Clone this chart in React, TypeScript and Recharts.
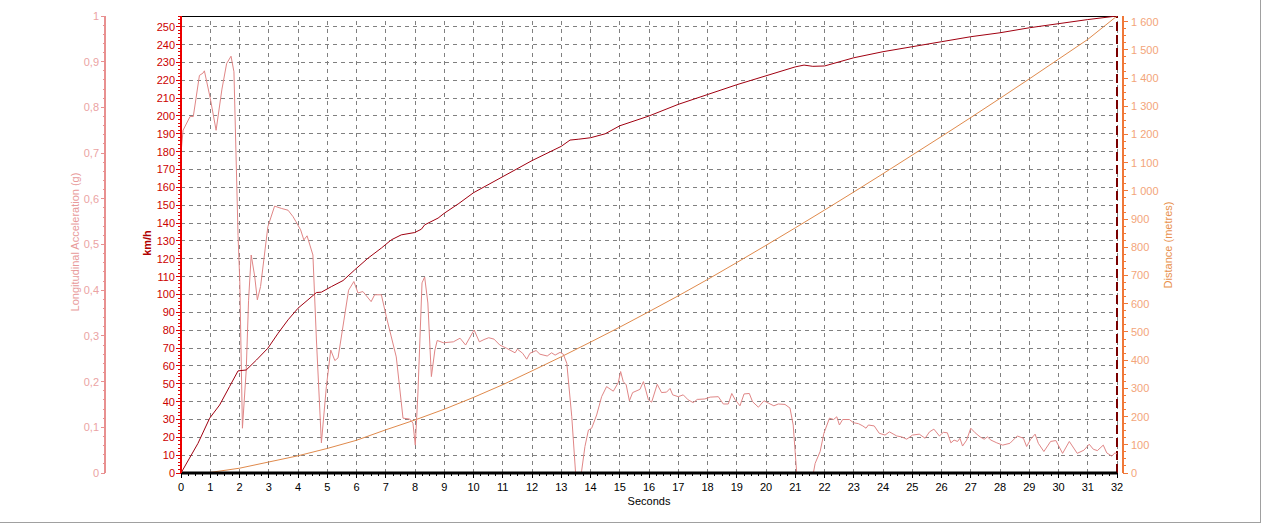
import React from 'react';
import { ComposedChart, Line, XAxis, YAxis, ReferenceLine } from 'recharts';

// ---- Data ----
const speedTime = [0, 0.58, 0.98, 1.32, 1.66, 1.95, 2.23, 2.58, 2.97, 3.32, 3.66, 4.0, 4.34, 4.63, 4.8, 5.14, 5.54, 5.94, 6.39, 6.85, 7.19, 7.53, 7.99, 8.22, 8.33, 8.79, 9.0, 9.5, 10, 11, 12, 13, 13.3, 13.6, 14, 14.5, 15, 16, 17, 18, 19, 20, 21, 21.3, 21.6, 22, 23, 24, 25, 26, 27, 28, 29, 30, 31, 32];
const speedKmh = [0, 16.6, 30.7, 38.1, 48.4, 57.2, 57.7, 63.3, 69.9, 78.3, 85.8, 92.3, 97, 101.1, 101.3, 104.4, 107.8, 113.8, 120.3, 126, 130.6, 133.4, 134.7, 136.6, 139, 142.8, 145.5, 151, 157, 166, 175, 183, 186.5, 187, 187.8, 190, 194.5, 200, 206.5, 212, 217.5, 222.5, 227.5, 228.5, 227.8, 228, 232.6, 236, 238.8, 241.6, 244.4, 246.6, 249.4, 251.7, 254, 256];

const accelTime = [0, 0.07, 0.31, 0.42, 0.63, 0.75, 0.8, 1.0, 1.2, 1.4, 1.56, 1.71, 1.81, 1.95, 2.01, 2.1, 2.23, 2.31, 2.4, 2.52, 2.61, 2.72, 2.97, 3.2, 3.43, 3.66, 3.83, 3.93, 4.09, 4.2, 4.31, 4.51, 4.63, 4.8, 4.97, 5.12, 5.26, 5.37, 5.73, 5.91, 6.05, 6.22, 6.5, 6.62, 6.85, 7.02, 7.36, 7.59, 7.82, 7.93, 8.01, 8.1, 8.24, 8.33, 8.44, 8.56, 8.68, 8.76, 8.97, 9.31, 9.54, 9.73, 10.02, 10.2, 10.36, 10.52, 10.7, 10.9, 11.13, 11.42, 11.5, 11.68, 11.82, 11.93, 12.14, 12.27, 12.52, 12.67, 12.79, 12.96, 13.07, 13.19, 13.36, 13.49, 13.68, 13.7, 13.81, 13.93, 14.04, 14.21, 14.38, 14.55, 14.78, 14.95, 15.03, 15.12, 15.22, 15.33, 15.44, 15.69, 15.81, 15.98, 16.09, 16.28, 16.43, 16.6, 16.72, 16.81, 17.0, 17.17, 17.34, 17.51, 17.65, 17.91, 18.09, 18.37, 18.54, 18.71, 18.83, 18.94, 19.11, 19.25, 19.43, 19.54, 19.74, 19.93, 20.08, 20.27, 20.42, 20.65, 20.82, 20.93, 21.05, 21.62, 21.68, 21.85, 21.98, 22.17, 22.31, 22.42, 22.51, 22.62, 22.85, 22.99, 23.16, 23.31, 23.42, 23.5, 23.7, 23.87, 24.07, 24.22, 24.47, 24.64, 24.81, 25.01, 25.24, 25.44, 25.59, 25.74, 25.93, 26.06, 26.2, 26.32, 26.43, 26.55, 26.63, 26.72, 26.86, 27.0, 27.15, 27.32, 27.46, 27.57, 27.69, 27.89, 28.09, 28.34, 28.59, 28.8, 28.91, 29.05, 29.2, 29.31, 29.5, 29.73, 29.91, 30.14, 30.37, 30.64, 30.87, 31.05, 31.19, 31.33, 31.53, 31.65, 31.82, 31.93, 32.0];
const accelG = [0.7, 0.75, 0.78, 0.78, 0.87, 0.875, 0.88, 0.82, 0.75, 0.84, 0.896, 0.912, 0.878, 0.52, 0.42, 0.098, 0.225, 0.378, 0.477, 0.43, 0.379, 0.408, 0.539, 0.584, 0.579, 0.575, 0.561, 0.55, 0.532, 0.51, 0.519, 0.477, 0.291, 0.066, 0.189, 0.269, 0.246, 0.252, 0.4, 0.419, 0.394, 0.397, 0.375, 0.39, 0.39, 0.342, 0.254, 0.12, 0.118, 0.109, 0.061, 0.175, 0.416, 0.429, 0.372, 0.211, 0.269, 0.29, 0.285, 0.287, 0.295, 0.28, 0.313, 0.287, 0.292, 0.296, 0.293, 0.28, 0.273, 0.263, 0.271, 0.262, 0.249, 0.262, 0.268, 0.26, 0.256, 0.263, 0.258, 0.264, 0.26, 0.24, 0.123, 0.0, 0.0, 0.006, 0.058, 0.094, 0.098, 0.127, 0.167, 0.189, 0.179, 0.198, 0.222, 0.2, 0.193, 0.158, 0.176, 0.183, 0.2, 0.16, 0.155, 0.194, 0.176, 0.177, 0.185, 0.171, 0.167, 0.171, 0.16, 0.154, 0.161, 0.162, 0.166, 0.167, 0.151, 0.151, 0.174, 0.161, 0.147, 0.173, 0.174, 0.156, 0.144, 0.158, 0.153, 0.147, 0.151, 0.15, 0.142, 0.105, 0.0, 0.0, 0.021, 0.047, 0.087, 0.12, 0.117, 0.123, 0.105, 0.117, 0.117, 0.11, 0.108, 0.103, 0.098, 0.105, 0.103, 0.087, 0.083, 0.09, 0.081, 0.079, 0.074, 0.083, 0.085, 0.076, 0.09, 0.096, 0.081, 0.089, 0.088, 0.066, 0.072, 0.069, 0.076, 0.059, 0.072, 0.098, 0.088, 0.079, 0.074, 0.079, 0.072, 0.066, 0.061, 0.065, 0.081, 0.076, 0.058, 0.074, 0.085, 0.065, 0.047, 0.069, 0.071, 0.043, 0.069, 0.043, 0.05, 0.063, 0.052, 0.049, 0.061, 0.044, 0.037, 0.044, 0.042];

const distTime = [0, 0.64, 1, 2, 3, 4, 5, 6, 7, 8, 9, 10, 11, 12, 13, 14, 15, 16, 17, 18, 19, 20, 21, 22, 23, 24, 25, 26, 27, 28, 29, 30, 31, 32];
const distM = [0, 0, 2, 17, 39, 61, 87, 116, 153, 188, 226, 268, 313, 362, 412, 464, 517, 572, 628, 686, 746, 807, 869, 932, 996, 1061, 1127, 1193, 1260, 1328, 1397, 1467, 1537, 1620];

// ---- Tick values ----
const secondTicks = Array.from({ length: 33 }, (_, i) => i);
const secondMinorTicks = Array.from({ length: 129 }, (_, i) => i / 4);
const speedTicks = Array.from({ length: 26 }, (_, i) => i * 10);
const speedMinorTicks = Array.from({ length: 129 }, (_, i) => i * 2);
const accelTicks = Array.from({ length: 51 }, (_, i) => i / 50);
const distTicks = Array.from({ length: 65 }, (_, i) => i * 25);

const speedData = speedTime.map((t, i) => ({ t, v: speedKmh[i] }));
const accelData = accelTime.map((t, i) => ({ t, v: accelG[i] }));
const distData = distTime.map((t, i) => ({ t, v: distM[i] }));

const FONT = '"Liberation Sans", Arial, sans-serif';

const XTick = (props: any) => {
  const { x, y, payload } = props;
  const v = payload.value;
  const major = Math.abs(v - Math.round(v)) < 1e-6;
  return (
    <g>
      <line x1={x} x2={x} y1={y} y2={y + (major ? 5 : 3)} stroke="#000" strokeWidth={1} shapeRendering="crispEdges" />
      {major && (
        <text x={x} y={y + 18} textAnchor="middle" fontSize={11} fontFamily={FONT} fill="#000">
          {Math.round(v)}
        </text>
      )}
    </g>
  );
};

const SpeedTick = (props: any) => {
  const { x, y, payload } = props;
  const v = payload.value;
  const major = v % 10 === 0;
  return (
    <g>
      <line x1={x - (major ? 5 : 3)} x2={x} y1={y} y2={y} stroke="#e00000" strokeWidth={1} shapeRendering="crispEdges" />
      {major && (
        <text x={x - 6} y={y} dy="0.36em" textAnchor="end" fontSize={11} fontFamily={FONT} fill="#cc0000">
          {v}
        </text>
      )}
    </g>
  );
};

const AccelTick = (props: any) => {
  const { x, y, payload } = props;
  const v = payload.value;
  const k = Math.round(v * 50);
  const major = k % 5 === 0;
  const label = String(Math.round(v * 10) / 10).replace('.', ',');
  return (
    <g>
      <line x1={x - (major ? 4 : 2)} x2={x} y1={y} y2={y} stroke="#e89090" strokeWidth={1} shapeRendering="crispEdges" />
      {major && (
        <text x={x - 6} y={y} dy="0.36em" textAnchor="end" fontSize={11} fontFamily={FONT} fill="#eba3a3">
          {label}
        </text>
      )}
    </g>
  );
};

const fmtDist = (v: number) =>
  v >= 1000 ? `${Math.floor(v / 1000)} ${String(v % 1000).padStart(3, '0')}` : String(v);

const DistTick = (props: any) => {
  const { x, y, payload } = props;
  const v = payload.value;
  const major = v % 100 === 0;
  return (
    <g>
      <line x1={x} x2={x + (major ? 5 : 3)} y1={y} y2={y} stroke="#f07838" strokeWidth={1} shapeRendering="crispEdges" />
      {major && (
        <text x={x + 8} y={y} dy="0.36em" textAnchor="start" fontSize={11} fontFamily={FONT} fill="#f3a57a">
          {fmtDist(v)}
        </text>
      )}
    </g>
  );
};

const GRID = '#808080';
const SP = 'axKmh';
const AC = 'axLong';
const DI = 'axDist';
const PAD = 'axAPad';

export default function App() {
  return (
    <div style={{ position: 'absolute', left: 0, top: 0, width: 1262, height: 524, background: '#fff' }}>
      <div
        style={{
          position: 'absolute',
          left: 0,
          top: 0,
          width: 1260,
          height: 522,
          borderRight: '1px solid #a0a0a0',
          borderBottom: '1px solid #a0a0a0',
        }}
      />
      <div style={{ position: 'absolute', left: 0, top: 0 }}>
        <ComposedChart width={1262} height={524} margin={{ top: 16, right: 39, bottom: 11, left: 45 }}>
          <XAxis
            dataKey="t"
            type="number"
            domain={[0, 32]}
            ticks={secondMinorTicks}
            interval={0}
            tickSize={0}
            tickMargin={0}
            tickLine={false}
            axisLine={{ stroke: '#000', strokeWidth: 3 }}
            tick={<XTick />}
            height={40}
            allowDataOverflow
          />
          <YAxis
            yAxisId={AC}
            orientation="left"
            type="number"
            domain={[0, 1]}
            ticks={accelTicks}
            interval={0}
            tickSize={0}
            tickMargin={0}
            tickLine={false}
            axisLine={{ stroke: '#e89090', strokeWidth: 2 }}
            tick={<AccelTick />}
            width={60}
            allowDataOverflow
          />
          <YAxis
            yAxisId={SP}
            orientation="left"
            type="number"
            domain={[0, 256]}
            ticks={speedMinorTicks}
            interval={0}
            tickSize={0}
            tickMargin={0}
            tickLine={false}
            axisLine={{ stroke: '#ee0000', strokeWidth: 2 }}
            tick={<SpeedTick />}
            width={76}
            allowDataOverflow
          />
          <YAxis
            yAxisId={DI}
            orientation="right"
            type="number"
            domain={[0, 1620]}
            ticks={distTicks}
            interval={0}
            tickSize={0}
            tickMargin={0}
            tickLine={false}
            axisLine={{ stroke: '#f07838', strokeWidth: 2 }}
            tick={<DistTick />}
            width={100}
            allowDataOverflow
          />
          <YAxis
            yAxisId={PAD}
            orientation="right"
            type="number"
            domain={[0, 1]}
            width={6}
            axisLine={false}
            tickLine={false}
            tick={false}
          />
          {speedTicks.slice(1).map((v) => (
            <ReferenceLine key={'h' + v} yAxisId={SP} y={v} stroke={GRID} strokeDasharray="4 4" strokeWidth={1} shapeRendering="crispEdges" />
          ))}
          {secondTicks.slice(1).map((v) => (
            <ReferenceLine key={'v' + v} yAxisId={SP} x={v} stroke={GRID} strokeDasharray="4 4" strokeWidth={1} shapeRendering="crispEdges" />
          ))}
          <ReferenceLine yAxisId={SP} y={256} stroke="#000" strokeWidth={1} shapeRendering="crispEdges" />
          <ReferenceLine yAxisId={SP} x={32} stroke="#7a0000" strokeWidth={2} strokeDasharray="9 4" />
          <Line
            data={distData}
            yAxisId={DI}
            dataKey="v"
            type="linear"
            stroke="#e08a4c"
            strokeWidth={1}
            dot={false}
            isAnimationActive={false}
          />
          <Line
            data={accelData}
            yAxisId={AC}
            dataKey="v"
            type="linear"
            stroke="#e08686"
            strokeWidth={1}
            dot={false}
            isAnimationActive={false}
          />
          <Line
            data={speedData}
            yAxisId={SP}
            dataKey="v"
            type="linear"
            stroke="#a00010"
            strokeWidth={1}
            dot={false}
            isAnimationActive={false}
          />
        </ComposedChart>
      </div>
      <svg
        width={1262}
        height={524}
        style={{ position: 'absolute', left: 0, top: 0, pointerEvents: 'none' }}
        fontFamily={FONT}
        fontSize={11}
      >
        <text transform="translate(75,242) rotate(-90)" textAnchor="middle" dy="0.36em" fill="#e89a9a">
          Longitudinal Acceleration (g)
        </text>
        <text transform="translate(147,243) rotate(-90)" textAnchor="middle" dy="0.36em" fill="#b00000" fontWeight="bold">
          km/h
        </text>
        <text transform="translate(1168,245) rotate(-90)" textAnchor="middle" dy="0.36em" fill="#e8904c">
          Distance (metres)
        </text>
        <text x={649} y={501} textAnchor="middle" dy="0.36em" fill="#000">
          Seconds
        </text>
      </svg>
    </div>
  );
}
